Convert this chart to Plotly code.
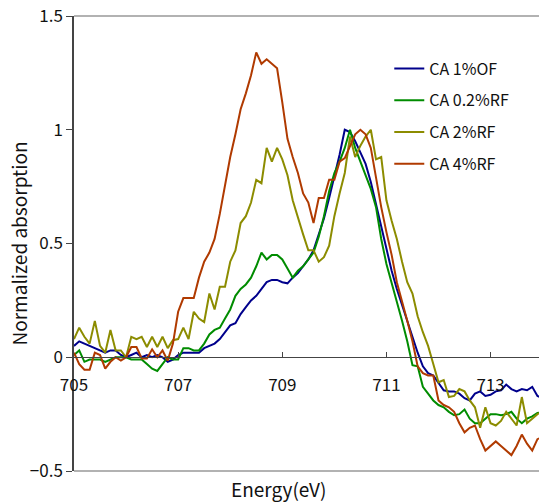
import numpy as np
import plotly.graph_objects as go

energy = [round(705 + 0.1 * i, 1) for i in range(91)]

ca_1of = [0.05, 0.07, 0.06, 0.05, 0.04, 0.03, 0.02, 0.03, 0.03, 0.01,
          0.0, 0.01, 0.02, 0.0, 0.01, 0.0, 0.01, 0.0, -0.02, -0.01,
          0.01, 0.02, 0.02, 0.02, 0.02, 0.04, 0.05, 0.06, 0.08, 0.11,
          0.14, 0.15, 0.19, 0.22, 0.25, 0.27, 0.30, 0.33, 0.34, 0.34,
          0.33, 0.325, 0.35, 0.37, 0.40, 0.43, 0.47, 0.54, 0.61, 0.70,
          0.79, 0.89, 1.0, 0.99, 0.95, 0.90, 0.85, 0.77, 0.67, 0.57,
          0.47, 0.38, 0.30, 0.23, 0.15, 0.09, 0.02, -0.04, -0.07, -0.08,
          -0.11, -0.145, -0.15, -0.15, -0.16, -0.18, -0.19, -0.16, -0.15, -0.17,
          -0.165, -0.15, -0.145, -0.12, -0.14, -0.15, -0.14, -0.145, -0.13, -0.17,
          -0.18]

ca_02rf = [0.01, 0.03, -0.02, -0.01, -0.01, -0.01, -0.02, -0.01, 0.0, 0.0,
           0.0, -0.01, -0.01, -0.01, -0.03, -0.05, -0.06, -0.03, 0.0, -0.01,
           -0.01, 0.04, 0.04, 0.03, 0.03, 0.06, 0.10, 0.12, 0.13, 0.17,
           0.21, 0.27, 0.30, 0.32, 0.35, 0.40, 0.46, 0.43, 0.45, 0.45,
           0.43, 0.39, 0.35, 0.38, 0.40, 0.43, 0.46, 0.53, 0.62, 0.73,
           0.81, 0.86, 0.92, 1.0, 0.92, 0.86, 0.80, 0.74, 0.66, 0.52,
           0.41, 0.33, 0.24, 0.16, 0.07, -0.035, -0.04, -0.13, -0.16, -0.19,
           -0.21, -0.22, -0.24, -0.255, -0.25, -0.23, -0.27, -0.29, -0.29, -0.27,
           -0.25, -0.25, -0.255, -0.25, -0.24, -0.27, -0.29, -0.27, -0.26, -0.245,
           -0.24]

ca_2rf = [0.08, 0.13, 0.09, 0.06, 0.16, 0.05, 0.02, 0.12, 0.03, 0.03,
          0.0, 0.09, 0.08, 0.09, 0.045, 0.09, 0.045, 0.09, 0.04, 0.075,
          0.08, 0.13, 0.08, 0.20, 0.17, 0.155, 0.28, 0.21, 0.31, 0.31,
          0.42, 0.47, 0.59, 0.62, 0.68, 0.78, 0.765, 0.92, 0.86, 0.92,
          0.87, 0.80, 0.69, 0.61, 0.54, 0.47, 0.47, 0.42, 0.44, 0.49,
          0.62, 0.72, 0.81, 0.97, 0.88, 0.93, 0.97, 1.0, 0.87, 0.88,
          0.69, 0.60, 0.52, 0.42, 0.33, 0.28, 0.18, 0.11, 0.05, -0.03,
          -0.11, -0.10, -0.175, -0.17, -0.14, -0.15, -0.19, -0.22, -0.31, -0.22,
          -0.29, -0.30, -0.28, -0.24, -0.27, -0.30, -0.175, -0.29, -0.27, -0.25,
          -0.24]

ca_4rf = [0.02, -0.03, -0.055, -0.055, 0.02, 0.01, -0.05, -0.02, 0.0, -0.015,
          0.0, 0.045, 0.045, -0.005, -0.005, 0.035, 0.0, 0.03, -0.015, 0.06,
          0.20, 0.26, 0.26, 0.26, 0.35, 0.42, 0.46, 0.52, 0.63, 0.75,
          0.88, 0.98, 1.09, 1.16, 1.24, 1.34, 1.29, 1.31, 1.29, 1.27,
          1.12, 0.96, 0.88, 0.81, 0.72, 0.68, 0.59, 0.70, 0.70, 0.78,
          0.78, 0.86, 0.875, 0.93, 0.98, 1.0, 0.98, 0.92, 0.79, 0.66,
          0.55, 0.45, 0.33, 0.25, 0.16, 0.07, -0.04, -0.07, -0.08, -0.08,
          -0.19, -0.21, -0.22, -0.24, -0.29, -0.33, -0.31, -0.30, -0.36, -0.41,
          -0.39, -0.37, -0.39, -0.41, -0.43, -0.39, -0.34, -0.38, -0.41, -0.36,
          -0.35]

series_names = ["CA 1%OF", "CA 0.2%RF", "CA 2%RF", "CA 4%RF"]
series_values = [ca_1of, ca_02rf, ca_2rf, ca_4rf]
colors = ["#00008c", "#008c00", "#8c8c00", "#b03a00"]

x_ticks = [705, 707, 709, 711, 713]
y_ticks = [-0.5, 0, 0.5, 1, 1.5]
y_ticklabels = ["\u22120.5", "0", "0.5", "1", "1.5"]

FONT = "Noto Sans CJK JP"

fig = go.Figure()
for i, (name, vals, col) in enumerate(zip(series_names, series_values, colors)):
    fig.add_trace(go.Scatter(x=energy, y=vals, mode="lines", name=name,
                             legendgroup=f"g{i}",
                             line=dict(color=col, width=2)))

fig.update_layout(
    width=539, height=502,
    margin=dict(l=74, r=0, t=16, b=31),
    paper_bgcolor="white", plot_bgcolor="white",
    font=dict(family=FONT, size=16, color="#111"),
    showlegend=True,
    legend=dict(x=0.678, y=0.922, xanchor="left", yanchor="top",
                bgcolor="rgba(0,0,0,0)", font=dict(size=16, family=FONT),
                tracegroupgap=8, itemwidth=30),
    xaxis=dict(range=[705, 713.93], tickvals=x_ticks, ticks="inside",
               ticklen=5, tickcolor="#444", showgrid=False, zeroline=False,
               showline=True, linecolor="#444", linewidth=1,
               anchor="free", position=0.25, ticklabelstandoff=12,
               tickfont=dict(size=17, family=FONT)),
    yaxis=dict(range=[-0.5, 1.5], tickvals=y_ticks, ticktext=y_ticklabels,
               ticks="outside", ticklen=6, tickcolor="#444", showgrid=False,
               zeroline=False, showline=True, linecolor="#444", linewidth=1.5,
               tickfont=dict(size=17, family=FONT)),
    shapes=[
        dict(type="line", xref="paper", yref="paper", x0=0, x1=1, y0=1, y1=1,
             line=dict(color="#999", width=1.5)),
        dict(type="line", xref="paper", yref="paper", x0=0, x1=1, y0=0, y1=0,
             line=dict(color="#999", width=1.5)),
    ],
    annotations=[
        dict(text="Energy(eV)", xref="paper", yref="paper", x=0.44, y=0,
             yshift=-17, xanchor="center", yanchor="middle", showarrow=False,
             font=dict(size=19, family=FONT)),
        dict(text="Normalized absorption", xref="paper", yref="paper",
             x=0, xshift=-56, y=0.5, textangle=-90, xanchor="center",
             yanchor="middle", showarrow=False,
             font=dict(size=19, family=FONT)),
    ],
)

fig.write_html("out.html")
